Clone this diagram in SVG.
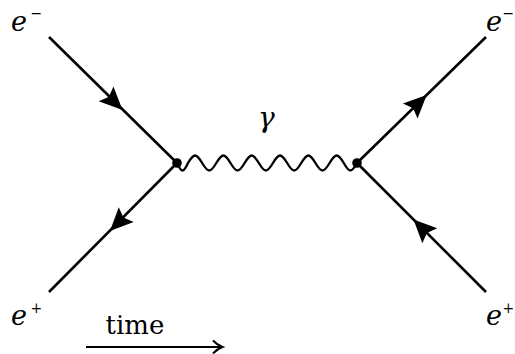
<svg xmlns="http://www.w3.org/2000/svg" width="515" height="354" viewBox="0 0 515 354">
<defs>
<path id="arr" d="M0,0 L-23,-10.5 L-19,0 L-23,10.5 Z" fill="#000"/>
</defs>
<rect width="515" height="354" fill="#fff"/>
<g id="connectors" stroke="#000" fill="none">
<line stroke-width="2.6" x1="49" y1="37" x2="177" y2="163"/>
<line stroke-width="2.6" x1="49" y1="292" x2="177" y2="163"/>
<line stroke-width="2.6" x1="357" y1="163" x2="486" y2="37"/>
<line stroke-width="2.6" x1="357" y1="163" x2="486" y2="292"/>
<use href="#arr" stroke="none" transform="translate(122.5,110) rotate(44.5)"/>
<use href="#arr" stroke="none" transform="translate(110,231) rotate(134.8)"/>
<use href="#arr" stroke="none" transform="translate(426.7,95) rotate(-44.3)"/>
<use href="#arr" stroke="none" transform="translate(413.5,219.5) rotate(-135)"/>
<path id="photon" stroke-width="2.3" d="M177,163 c4.67,10 6.33,10 11,0 c6.01,-10 8.15,-10 14.16,0 c6.01,10 8.15,10 14.16,0 c6.01,-10 8.15,-10 14.16,0 c6.01,10 8.15,10 14.16,0 c6.01,-10 8.15,-10 14.16,0 c6.01,10 8.15,10 14.16,0 c6.01,-10 8.15,-10 14.16,0 c6.01,10 8.15,10 14.16,0 c6.01,-10 8.15,-10 14.16,0 c6.01,10 8.15,10 14.16,0 c6.01,-10 8.15,-10 14.16,0 c5.62,10 7.62,10 13.24,0"/>
</g>
<g id="v1"><circle cx="177" cy="163" r="4.8" fill="#000"/></g>
<g id="v2"><circle cx="357" cy="163" r="4.8" fill="#000"/></g>
<g font-family="'DejaVu Serif', 'Liberation Serif', serif" fill="#000">
<g id="e-in"><text font-style="italic" x="11" y="31" font-size="27">e</text><text x="30.5" y="17.5" font-size="14">−</text></g>
<g id="e+in"><text font-style="italic" x="11" y="325" font-size="27">e</text><text x="30.5" y="312.5" font-size="14">+</text></g>
<g id="e-out"><text font-style="italic" x="486" y="31" font-size="27">e</text><text x="502.5" y="17.5" font-size="14">−</text></g>
<g id="e+out"><text font-style="italic" x="486" y="325" font-size="27">e</text><text x="502.5" y="312.5" font-size="14">+</text></g>
<g id="gamma"><text font-style="italic" x="258" y="127" font-size="28">γ</text></g>
<g id="time">
<text x="135" y="334" font-size="26" text-anchor="middle">time</text>
<line x1="86" y1="347" x2="222" y2="347" stroke="#000" stroke-width="2"/>
<path d="M213,340.5 Q217,345 222.5,347 Q217,349 213,353.5" fill="none" stroke="#000" stroke-width="2"/>
</g>
</g>
</svg>
